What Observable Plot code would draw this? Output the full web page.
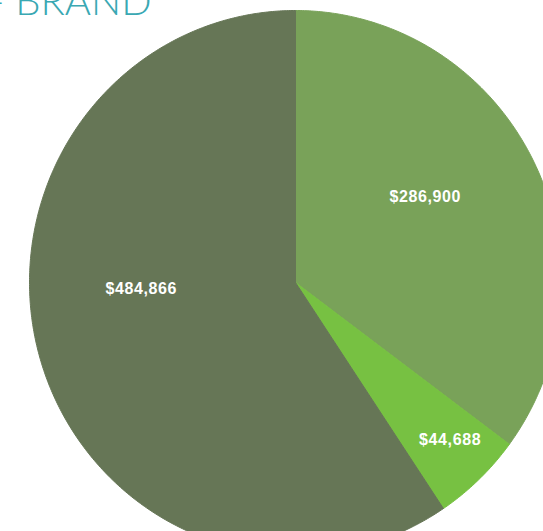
<!DOCTYPE html>
<html>
<head>
<meta charset="utf-8">
<script src="https://cdn.jsdelivr.net/npm/d3@7"></script>
<script src="https://cdn.jsdelivr.net/npm/@observablehq/plot@0.6"></script>
<style>
  html, body { margin: 0; padding: 0; background: #fff; overflow: hidden; }
  #chart g[aria-label="text"]:not(:last-of-type) text { letter-spacing: 0.6px; }
</style>
</head>
<body>
<div id="chart"></div>
<script>
// ---- data ----
const titleText = "- BRAND";
const sliceNames = ["Brand A", "Brand B", "Brand C"];
const sliceValues = [286900, 44688, 484866];
const sliceLabels = ["$286,900", "$44,688", "$484,866"];
const sliceColors = ["#79a259", "#77c142", "#667656"];

// ---- layout (pixels) ----
const W = 543, H = 531;
const cx = 295, cy = 282, rx = 266, ry = 272;
const labelRadius = [0.58, 0.82, 0.58];   // fraction of radius
const labelAngleShift = [-6, -1.5, 14.7];  // degrees from mid-angle

const total = d3.sum(sliceValues);
let acc = 0;
const slices = sliceValues.map((v, i) => {
  const a0 = acc / total * 360;
  acc += v;
  const a1 = acc / total * 360;
  return {name: sliceNames[i], label: sliceLabels[i], a0, a1, i};
});

const rad = d => d * Math.PI / 180;
const outline = [];
for (const s of slices) {
  outline.push({name: s.name, x: 0, y: 0});
  const n = Math.max(2, Math.ceil((s.a1 - s.a0) / 0.5));
  for (let k = 0; k <= n; k++) {
    const a = rad(s.a0 + (s.a1 - s.a0) * k / n);
    outline.push({name: s.name, x: Math.sin(a), y: Math.cos(a)});
  }
  outline.push({name: s.name, x: 0, y: 0});
}

const labels = slices.map(s => {
  const a = rad((s.a0 + s.a1) / 2 + labelAngleShift[s.i]);
  const r = labelRadius[s.i];
  return {label: s.label, x: r * Math.sin(a), y: r * Math.cos(a)};
});

const chart = Plot.plot({
  width: W,
  height: H,
  margin: 0,
  x: {domain: [-cx / rx, (W - cx) / rx], axis: null},
  y: {domain: [-(H - cy) / ry, cy / ry], axis: null},
  color: {domain: sliceNames, range: sliceColors},
  style: {background: "#fff"},
  marks: [
    Plot.line(outline, {x: "x", y: "y", z: "name", fill: "name", stroke: "name", strokeWidth: 1, curve: "linear", clip: true}),
    Plot.text(labels, {x: "x", y: "y", text: "label", fill: "#fff", fontSize: 16, fontWeight: "bold", fontFamily: "Liberation Sans, Arial, sans-serif"}),
    Plot.text([titleText], {frameAnchor: "top-left", text: d => d, textAnchor: "start", lineAnchor: "bottom", dx: -11, dy: 14, fill: "#3aa8b3", fontSize: 40, fontWeight: 300, fontFamily: "Lato, 'Open Sans', sans-serif"})
  ]
});
document.getElementById("chart").appendChild(chart);
</script>
</body>
</html>
